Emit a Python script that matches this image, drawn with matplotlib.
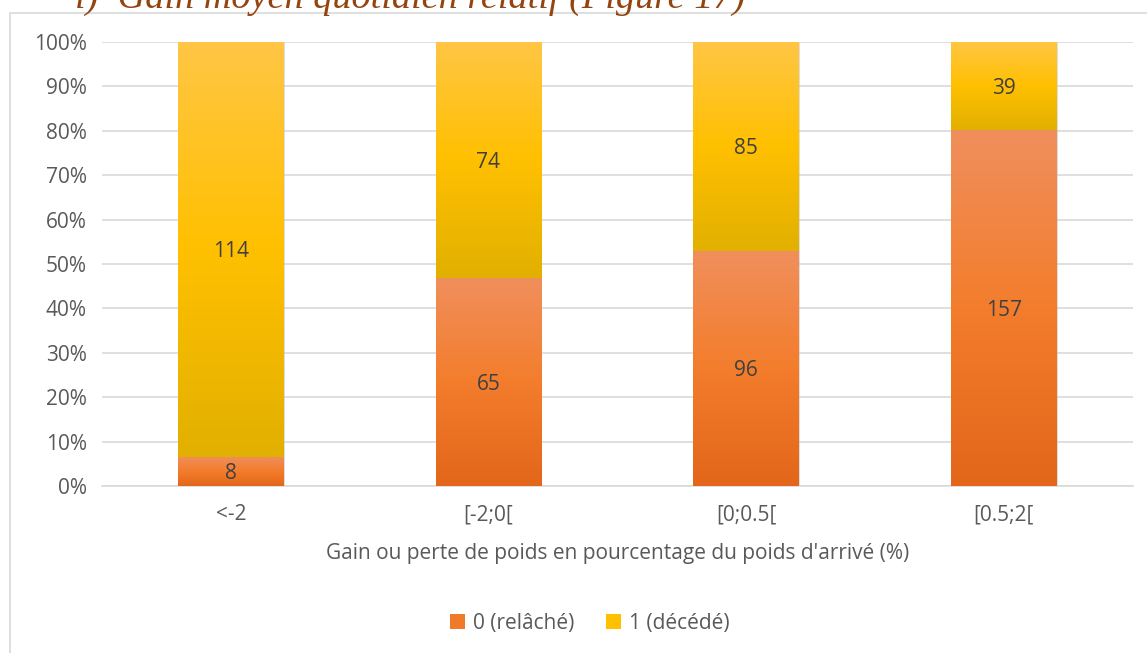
import numpy as np
import matplotlib
matplotlib.use("Agg")
import matplotlib.pyplot as plt
from matplotlib.colors import LinearSegmentedColormap
from matplotlib.patches import Rectangle, Patch

categories = ["<-2", "[-2;0[", "[0;0.5[", "[0.5;2["]
released = [8, 65, 96, 157]
dead = [114, 74, 85, 39]
series_names = ["0 (relâché)", "1 (décédé)"]
xlabel = "Gain ou perte de poids en pourcentage du poids d'arrivé (%)"
title = "i)  Gain moyen quotidien relatif (Figure 17)"

plt.rcParams['font.family'] = ['Open Sans', 'DejaVu Sans']

orange_cmap = LinearSegmentedColormap.from_list(
    "org", ["#E3661A", "#F37D2C", "#F08F5C"])
yellow_cmap = LinearSegmentedColormap.from_list(
    "yel", ["#E2B000", "#FFC000", "#FFC645"])

released = np.array(released, float)
dead = np.array(dead, float)
total = released + dead
p_rel = released / total * 100
p_dead = dead / total * 100

fig = plt.figure(figsize=(11.47, 6.53), dpi=100)
ax = fig.add_axes([0.0889, 0.2557, 0.8985, 0.68])

# outer chart border + cropped heading above it (cut off in the original too)
fig.patches.append(Rectangle((10 / 1147, -0.05), 1.1, 1 - 12.5 / 653 + 0.05,
                             transform=fig.transFigure, fill=False,
                             edgecolor="#D9D9D9", linewidth=1.2))
fig.text(75 / 1147, 1 - 8 / 653, title, family="Liberation Serif",
         style="italic", fontsize=27.5, color="#94450F", va="baseline")

x = np.arange(len(categories))
w = 0.41
grad = np.linspace(0, 1, 256).reshape(-1, 1)

bars_rel = ax.bar(x, p_rel, w, color="none", edgecolor="none", zorder=3)
bars_dead = ax.bar(x, p_dead, w, bottom=p_rel, color="none", edgecolor="none", zorder=3)

# vertical gradient fill per segment, clipped to the bar rectangle
for bars, cmap in [(bars_rel, orange_cmap), (bars_dead, yellow_cmap)]:
    for r in bars:
        x0, y0 = r.get_x(), r.get_y()
        x1, y1 = x0 + r.get_width(), y0 + r.get_height()
        im = ax.imshow(grad, cmap=cmap, extent=[x0, x1, y0, y1], origin="lower",
                       aspect="auto", zorder=3, interpolation="bilinear")
        im.set_clip_path(r)

# soft shadow behind each bar
for i in range(len(x)):
    ax.add_patch(Rectangle((x[i] - w / 2 + 0.004, -0.6), w, 100.4,
                           facecolor="#BFBFBF", alpha=0.5, edgecolor="none", zorder=2))

for i in range(len(x)):
    ax.text(x[i], p_rel[i] / 2, f"{int(released[i])}",
            ha="center", va="center_baseline", fontsize=15, color="#404040", zorder=5)
    ax.text(x[i], p_rel[i] + p_dead[i] / 2, f"{int(dead[i])}",
            ha="center", va="center_baseline", fontsize=15, color="#404040", zorder=5)

ax.set_xlim(-0.5, 3.5)
ax.set_ylim(0, 100)
ax.set_yticks(np.arange(0, 101, 10))
ax.set_yticklabels([f"{v}%" for v in range(0, 101, 10)])
ax.set_xticks(x)
ax.set_xticklabels(categories)
ax.yaxis.grid(True, color="#D9D9D9", linewidth=1.2, zorder=0)
ax.set_axisbelow(True)
for s in ["top", "right", "left"]:
    ax.spines[s].set_visible(False)
ax.spines["bottom"].set_color("#D9D9D9")
ax.spines["bottom"].set_linewidth(1.2)
ax.tick_params(length=0, labelsize=15, colors="#595959", pad=13)
ax.tick_params(axis="y", pad=11)
ax.set_xlabel(xlabel, fontsize=15, color="#595959", labelpad=13)

handles = [Patch(facecolor="#F07A2A", edgecolor="none"),
           Patch(facecolor="#FFC000", edgecolor="none")]
fig.legend(handles, series_names, loc="center", bbox_to_anchor=(590 / 1147, 1 - 623 / 653),
           ncol=2, frameon=False, fontsize=15, labelcolor="#595959",
           handlelength=0.7, handleheight=0.7, handletextpad=0.4, columnspacing=1.5)

fig.savefig("out.png", dpi=100)
